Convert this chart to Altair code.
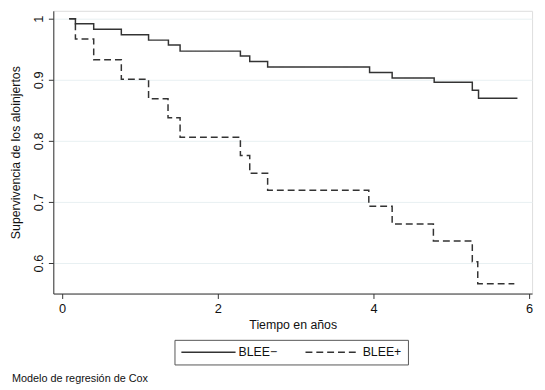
import altair as alt
import pandas as pd

# Survival estimates (step functions)
t_neg = [0.09, 0.17, 0.405, 0.76, 1.11, 1.365, 1.515, 2.29, 2.41, 2.64, 3.95, 4.24, 4.78, 5.27, 5.35, 5.85]
s_neg = [1.0, 0.992, 0.983, 0.974, 0.965, 0.957, 0.947, 0.939, 0.930, 0.921, 0.912, 0.903, 0.896, 0.883, 0.870, 0.870]

t_pos = [0.09, 0.17, 0.405, 0.76, 1.11, 1.36, 1.515, 2.29, 2.41, 2.64, 3.94, 4.24, 4.77, 5.27, 5.34, 5.81]
s_pos = [1.0, 0.967, 0.933, 0.901, 0.869, 0.838, 0.806, 0.776, 0.747, 0.719, 0.693, 0.664, 0.636, 0.602, 0.566, 0.566]

groups = ["BLEE\u2212", "BLEE+"]
x_ticks = [0, 2, 4, 6]
y_ticks = [0.6, 0.7, 0.8, 0.9, 1.0]

df = pd.concat([
    pd.DataFrame({"t": t_neg, "s": s_neg, "g": groups[0]}),
    pd.DataFrame({"t": t_pos, "s": s_pos, "g": groups[1]}),
])

FONT = "Liberation Sans"

chart = alt.Chart(df).mark_line(interpolate="step-after", strokeWidth=1.5, color="#333333").encode(
    x=alt.X("t:Q", title="Tiempo en años",
            scale=alt.Scale(domain=[-0.114, 6.038], nice=False, zero=False),
            axis=alt.Axis(values=x_ticks, grid=False, tickSize=5, labelPadding=4,
                          labelFontSize=13, titleFontSize=12.5, titlePadding=3,
                          titleFontWeight="normal",
                          labelFont=FONT, titleFont=FONT, domainColor="#333333",
                          tickColor="#333333", labelColor="#111111", titleColor="#111111")),
    y=alt.Y("s:Q", title="Supervivencia de los aloinjertos",
            scale=alt.Scale(domain=[0.55, 1.013], nice=False, zero=False),
            axis=alt.Axis(values=y_ticks, grid=True, gridColor="#E8F0F2", gridWidth=1,
                          tickSize=5, labelAngle=270, labelAlign="center", labelBaseline="bottom",
                          labelPadding=3, labelFontSize=13, titleFontSize=12.5, titlePadding=10,
                          titleFontWeight="normal",
                          labelExpr="datum.value == 1 ? '1' : format(datum.value, '.1f')",
                          labelFont=FONT, titleFont=FONT, domainColor="#333333",
                          tickColor="#333333", labelColor="#111111", titleColor="#111111")),
    strokeDash=alt.StrokeDash("g:N", title=None,
                              scale=alt.Scale(domain=groups, range=[[1, 0], [7, 4]]),
                              legend=alt.Legend(orient="none", legendX=123, legendY=334,
                                                direction="horizontal", columns=2,
                                                symbolType="M-1,0H9", symbolSize=121,
                                                symbolStrokeWidth=1.5, symbolStrokeColor="#333333",
                                                labelFontSize=12.5, labelFont=FONT, labelColor="#111111",
                                                labelOffset=46, columnPadding=25,
                                                padding=6, strokeColor="#555555", fillColor="white",
                                                cornerRadius=0)),
).properties(
    width=486,
    height=287,
    autosize=alt.AutoSizeParams(type="none"),
    padding={"left": 46, "top": 0, "right": 5, "bottom": 92},
    title=alt.TitleParams("Modelo de regresión de Cox", orient="bottom", anchor="start",
                          frame="bounds", fontSize=11, font=FONT, fontWeight="normal",
                          color="#111111", offset=8, dx=2),
).configure_view(stroke=None).configure(background="white")

chart.save("out.html", embed_options={"renderer": "svg", "actions": False})
